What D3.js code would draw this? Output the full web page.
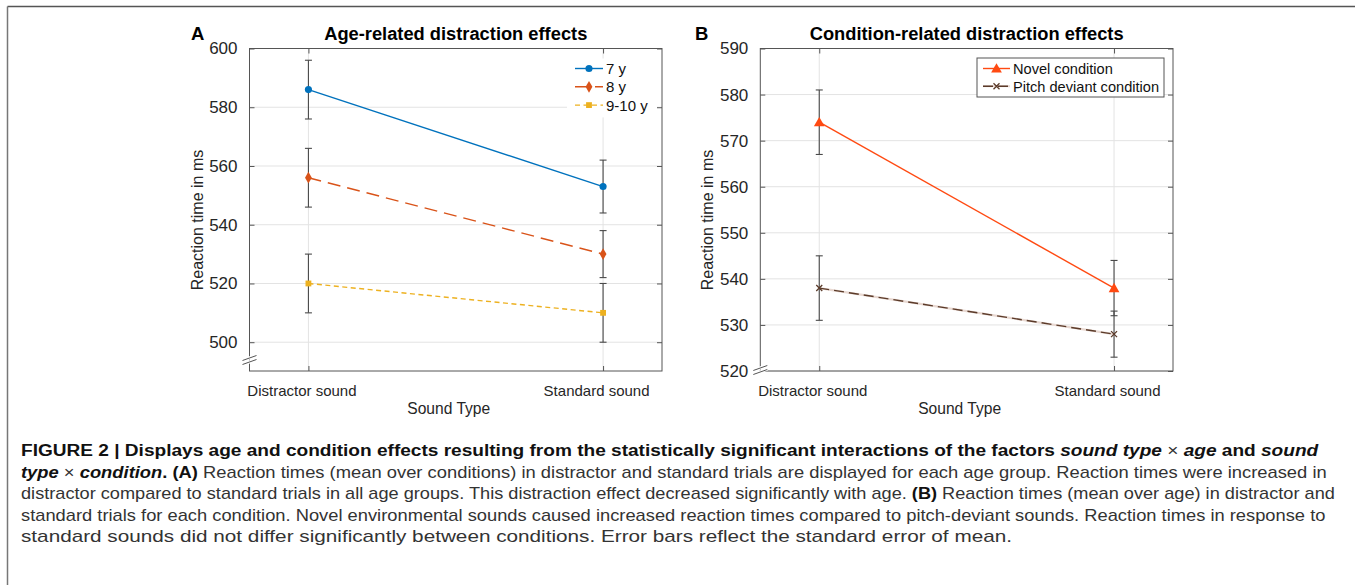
<!DOCTYPE html>
<html lang="en">
<head>
<meta charset="UTF-8" />
<script src="https://d3js.org/d3.v7.min.js"></script>
<style>
  body { margin: 0; background: #fff; }
  svg { display: block; font-family: "Liberation Sans", Arial, sans-serif; }
  .cap { font-family: "Liberation Sans Narrow", "Arial Narrow", "Liberation Sans", sans-serif; font-size: 16px; fill: #333; }
</style>
</head>
<body>
<svg id="fig" width="1355" height="585"></svg>
<script>
// ---- data ----
const categories = ['Distractor sound', 'Standard sound']

const ageGroups = ['7 y', '8 y', '9-10 y']
const ageMeans = [[586, 553], [556, 530], [520, 510]]
const ageErr = [[10, 9], [10, 8], [10, 10]]
const ageTicks = [500, 520, 540, 560, 580, 600]

const conditions = ['Novel condition', 'Pitch deviant condition']
const condMeans = [[574, 538], [538, 528]]
const condErr = [[7, 6], [7, 5]]
const condTicks = [520, 530, 540, 550, 560, 570, 580, 590]

const svg = d3.select('#fig')

// figure frame (top + left rule)
svg.append('line').attr('x1', 7.5).attr('y1', 6.5).attr('x2', 1355).attr('y2', 6.5)
  .attr('stroke', '#555').attr('stroke-width', 1.5)
svg.append('line').attr('x1', 7.5).attr('y1', 6.5).attr('x2', 7.5).attr('y2', 585)
  .attr('stroke', '#777').attr('stroke-width', 1.5)

function panel(opt) {
  const g = svg.append('g')
  const x = d3.scalePoint().domain(categories).range([opt.left, opt.right]).padding(0.2)
  const y = d3.scaleLinear().domain(opt.domain).range([371, 48.5])
  const top = 48.5, bottom = 371

  // grid
  g.selectAll('.gy').data(opt.ticks).enter().append('line')
    .attr('x1', opt.left).attr('x2', opt.right)
    .attr('y1', d => y(d)).attr('y2', d => y(d))
    .attr('stroke', '#e3e3e3').attr('stroke-width', 1)
  g.selectAll('.gx').data(categories).enter().append('line')
    .attr('x1', d => x(d)).attr('x2', d => x(d))
    .attr('y1', top).attr('y2', bottom)
    .attr('stroke', '#e3e3e3').attr('stroke-width', 1)

  // axes: left/bottom with ticks pointing inward, plus mirrored right/top
  const yl = g.append('g').attr('transform', `translate(${opt.left},0)`)
    .call(d3.axisLeft(y).tickValues(opt.ticks).tickSize(-5).tickPadding(12))
  const yr = g.append('g').attr('transform', `translate(${opt.right},0)`)
    .call(d3.axisRight(y).tickValues(opt.ticks).tickSize(-5).tickFormat(''))
  const xb = g.append('g').attr('transform', `translate(0,${bottom})`)
    .call(d3.axisBottom(x).tickSize(-5).tickPadding(14))
  const xt = g.append('g').attr('transform', `translate(0,${top})`)
    .call(d3.axisTop(x).tickSize(-5).tickFormat(''))
  ;[yl, yr, xb, xt].forEach(a => {
    a.select('.domain').remove()
    a.selectAll('line').attr('stroke', '#555')
  })
  yl.selectAll('text').attr('font-size', 17).attr('fill', '#262626')
    .attr('font-family', '"Liberation Sans", Arial, sans-serif')
  xb.selectAll('text').attr('font-size', 15).attr('fill', '#262626')
    .attr('font-family', '"Liberation Sans", Arial, sans-serif')
    .attr('dx', -7)

  g.append('rect').attr('x', opt.left).attr('y', top)
    .attr('width', opt.right - opt.left).attr('height', bottom - top)
    .attr('fill', 'none').attr('stroke', '#555').attr('stroke-width', 1)

  // axis break mark
  const by = opt.breakY
  ;[0, 4].forEach(o => {
    g.append('line').attr('x1', opt.left - 7).attr('y1', by + 3 + o)
      .attr('x2', opt.left + 7).attr('y2', by - 3 + o)
      .attr('stroke', '#fff').attr('stroke-width', 3)
  })
  ;[0, 4].forEach(o => {
    g.append('line').attr('x1', opt.left - 7).attr('y1', by + 2.5 + o)
      .attr('x2', opt.left + 7).attr('y2', by - 2.5 + o)
      .attr('stroke', '#555').attr('stroke-width', 1)
  })

  // labels
  const cx = (opt.left + opt.right) / 2
  svg.append('text').attr('x', cx).attr('y', 39.5).attr('text-anchor', 'middle')
    .attr('font-size', 18.3).attr('font-weight', 'bold').text(opt.title)
  svg.append('text').attr('x', opt.letterX).attr('y', 39.5)
    .attr('font-size', 18.5).attr('font-weight', 'bold').text(opt.letter)
  svg.append('text').attr('x', cx - 7).attr('y', 414).attr('text-anchor', 'middle')
    .attr('font-size', 15.6).attr('fill', '#262626').text('Sound Type')
  svg.append('text').attr('transform', `translate(${opt.left - 47},220) rotate(-90)`)
    .attr('text-anchor', 'middle').attr('font-size', 16).attr('fill', '#262626')
    .text('Reaction time in ms')

  // series
  opt.series.forEach((s, i) => {
    const pts = categories.map((c, j) => ({ c, v: opt.means[i][j], e: opt.err[i][j] }))
    const line = d3.line().x(d => x(d.c)).y(d => y(d.v))
    if (s.under) {
      g.append('path').datum(pts).attr('d', line).attr('fill', 'none')
        .attr('stroke', s.under).attr('stroke-width', 2.2)
    }
    g.append('path').datum(pts).attr('d', line).attr('fill', 'none')
      .attr('stroke', s.color).attr('stroke-width', 1.4)
      .attr('stroke-dasharray', s.dash || null)
    // error bars
    pts.forEach(d => {
      const eg = g.append('g').attr('stroke', '#4a4a4a').attr('stroke-width', 1.1)
      eg.append('line').attr('x1', x(d.c)).attr('x2', x(d.c))
        .attr('y1', y(d.v - d.e)).attr('y2', y(d.v + d.e))
      ;[d.v - d.e, d.v + d.e].forEach(v => {
        eg.append('line').attr('x1', x(d.c) - 3.5).attr('x2', x(d.c) + 3.5)
          .attr('y1', y(v)).attr('y2', y(v))
      })
    })
    pts.forEach(d => marker(g, s, x(d.c), y(d.v)))
  })

  // legend
  const L = opt.legend
  if (L.box) {
    g.append('rect').attr('x', L.box[0]).attr('y', L.box[1])
      .attr('width', L.box[2]).attr('height', L.box[3])
      .attr('fill', '#fff').attr('stroke', '#555').attr('stroke-width', 1)
  } else {
    g.append('rect').attr('x', L.x0 - 8).attr('y', L.y0 - 10)
      .attr('width', 90).attr('height', L.step * opt.series.length + 4)
      .attr('fill', '#fff')
  }
  opt.series.forEach((s, i) => {
    const ly = L.y0 + i * L.step
    if (s.under) {
      g.append('line').attr('x1', L.x0).attr('x2', L.x1).attr('y1', ly).attr('y2', ly)
        .attr('stroke', s.under).attr('stroke-width', 2)
    }
    g.append('line').attr('x1', L.x0).attr('x2', L.x1).attr('y1', ly).attr('y2', ly)
      .attr('stroke', s.color).attr('stroke-width', 1.4)
      .attr('stroke-dasharray', s.dash || null)
    marker(g, s, (L.x0 + L.x1) / 2, ly)
    g.append('text').attr('x', L.x1 + 3).attr('y', ly + 5.5)
      .attr('font-size', L.fs).attr('fill', '#111').text(s.name)
  })
}

function marker(g, s, px, py) {
  if (s.shape === 'cross') {
    g.append('path').attr('d', `M${px - 3},${py - 3}L${px + 3},${py + 3}M${px - 3},${py + 3}L${px + 3},${py - 3}`)
      .attr('stroke', s.color).attr('stroke-width', 1.3)
    return
  }
  const sym = { circle: d3.symbolCircle, diamond: d3.symbolDiamond, square: d3.symbolSquare, triangle: d3.symbolTriangle }[s.shape]
  const size = { circle: 40, diamond: 40, square: 34, triangle: 50 }[s.shape]
  g.append('path').attr('d', d3.symbol(sym, size)())
    .attr('transform', `translate(${px},${py + (s.shape === 'triangle' ? 1 : 0)})`)
    .attr('fill', s.color)
}

panel({
  left: 249.5, right: 662, domain: [490.2, 600], ticks: ageTicks,
  title: 'Age-related distraction effects', letter: 'A', letterX: 191,
  means: ageMeans, err: ageErr, breakY: 358,
  series: [
    { name: ageGroups[0], color: '#0072bd', shape: 'circle' },
    { name: ageGroups[1], color: '#d95319', shape: 'diamond', dash: '13 7' },
    { name: ageGroups[2], color: '#edb120', shape: 'square', dash: '5 3.5' }
  ],
  legend: { x0: 575, x1: 603, y0: 68.5, step: 18.3, fs: 15 }
})

panel({
  left: 760.3, right: 1173, domain: [520, 590], ticks: condTicks,
  title: 'Condition-related distraction effects', letter: 'B', letterX: 695,
  means: condMeans, err: condErr, breakY: 368,
  series: [
    { name: conditions[0], color: '#ff4a12', shape: 'triangle' },
    { name: conditions[1], color: '#5b3b2a', shape: 'cross', dash: '10 5', under: '#e9d9d2' }
  ],
  legend: { x0: 983, x1: 1010, y0: 68.5, step: 17.7, box: [977, 58, 187, 39], fs: 14.6 }
})

// ---- caption ----
const capLines = [
  { w: 1298, parts: [
    ['b', 'FIGURE 2 | Displays age and condition effects resulting from the statistically significant interactions of the factors '],
    ['bi', 'sound type'], ['r', ' × '], ['bi', 'age'], ['b', ' and '], ['bi', 'sound']] },
  { w: 1306, parts: [
    ['bi', 'type'], ['r', ' × '], ['bi', 'condition'], ['b', '. (A)'],
    ['r', ' Reaction times (mean over conditions) in distractor and standard trials are displayed for each age group. Reaction times were increased in']] },
  { w: 1315, parts: [
    ['r', 'distractor compared to standard trials in all age groups. This distraction effect decreased significantly with age. '],
    ['b', '(B)'], ['r', ' Reaction times (mean over age) in distractor and']] },
  { w: 1305, parts: [
    ['r', 'standard trials for each condition. Novel environmental sounds caused increased reaction times compared to pitch-deviant sounds. Reaction times in response to']] },
  { w: 992, parts: [
    ['r', 'standard sounds did not differ significantly between conditions. Error bars reflect the standard error of mean.']] }
]
capLines.forEach((ln, i) => {
  const t = svg.append('text').attr('class', 'cap')
  ln.parts.forEach(p => {
    t.append('tspan')
      .attr('font-weight', p[0].includes('b') ? 'bold' : null)
      .attr('font-style', p[0].includes('i') ? 'italic' : null)
      .attr('fill', p[0].includes('b') ? '#111' : null)
      .text(p[1])
  })
  const w = t.node().getComputedTextLength()
  t.attr('transform', `translate(21,${456 + i * 21.5}) scale(${ln.w / w},1)`)
})
</script>
</body>
</html>
